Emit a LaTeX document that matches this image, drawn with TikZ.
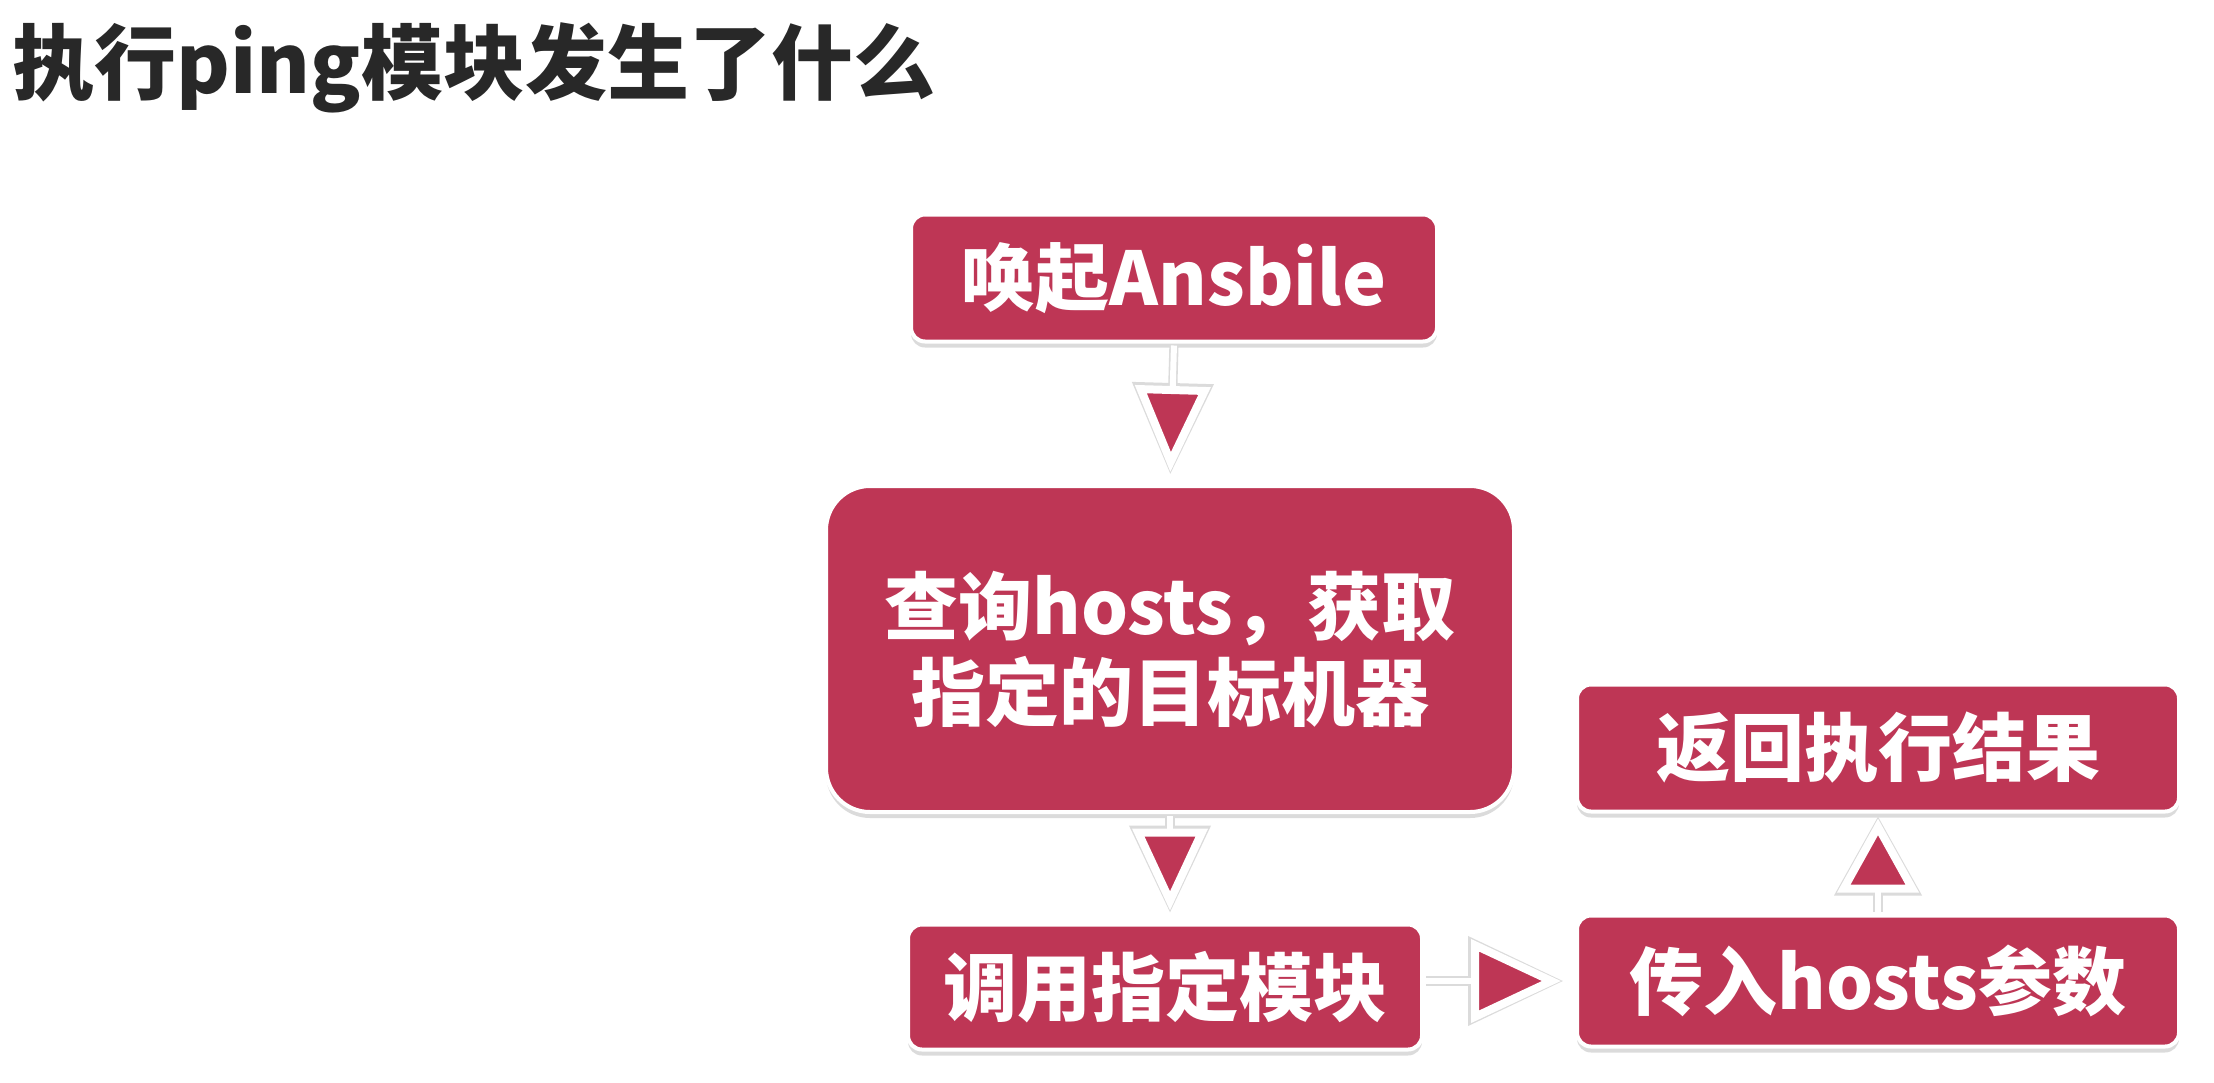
\documentclass[tikz,border=0pt]{standalone}
\usepackage{fontspec}
\setmainfont{Noto Sans CJK SC}
\usetikzlibrary{arrows.meta,shadows}
\definecolor{crim}{RGB}{190,54,85}
\definecolor{ttl}{RGB}{40,40,40}
\begin{document}
\begin{tikzpicture}[x=0.5pt,y=-0.5pt,
  box/.style={draw=white, line width=2pt, fill=crim, rounded corners=7pt,
    text=white, font=\bfseries\fontsize{37}{43}\selectfont, align=center,
    inner sep=0pt, drop shadow={opacity=0.28, shadow xshift=0pt, shadow yshift=-3pt}},
  arr/.style n args={2}{draw=white, line width=3pt, shorten <=1pt,
    -{Triangle[length=#1, width=#2, color=white, fill=crim, line width=4pt]}},
  arrsh/.style n args={2}{draw=black!14, line width=4.6pt, shorten <=1pt,
    -{Triangle[length=#1+2.5pt, width=#2+3pt, color=black!14, fill=black!14, line width=4pt]}},
]
\path[use as bounding box, fill=white] (0,0) rectangle (2214,1082);

\node[anchor=base west, text=ttl, font=\bfseries\fontsize{41}{46}\selectfont, inner sep=0pt] (title) at (12,93) {执行ping模块发生了什么};

\node[box, minimum width=263pt, minimum height=63.5pt] (b1) at (1174,278) {唤起Ansbile};
\node[box, minimum width=344pt, minimum height=163pt, rounded corners=22pt] (b2) at (1170,649) {查询hosts，获取\\指定的目标机器};
\node[box, minimum width=257pt, minimum height=62.5pt] (b3) at (1165,987) {调用指定模块};
\node[box, minimum width=301pt, minimum height=65.5pt] (b4) at (1878,981) {传入hosts参数};
\node[box, minimum width=301pt, minimum height=63.5pt] (b5) at (1878,748) {返回执行结果};

% soft halo under the connectors
\draw[arrsh={43pt}{37pt}, shorten >=5pt] (b1.south) -- (b2.north);
\draw[arrsh={41pt}{37pt}, shorten >=5pt] (b2.south) -- (b2.south |- b3.north);
\draw[arrsh={45pt}{41pt}, shorten >=6pt] (b3.east |- b4.west) -- (b4.west);
\draw[arrsh={37pt}{40pt}, shorten >=1.5pt] (b4.north) -- (b4.north |- b5.south);
% connectors
\draw[arr={43pt}{37pt}, shorten >=6pt] (b1.south) -- (b2.north);
\draw[arr={41pt}{37pt}, shorten >=6pt] (b2.south) -- (b2.south |- b3.north);
\draw[arr={45pt}{41pt}, shorten >=7pt] (b3.east |- b4.west) -- (b4.west);
\draw[arr={37pt}{40pt}, shorten >=2.5pt] (b4.north) -- (b4.north |- b5.south);
\end{tikzpicture}
\end{document}
